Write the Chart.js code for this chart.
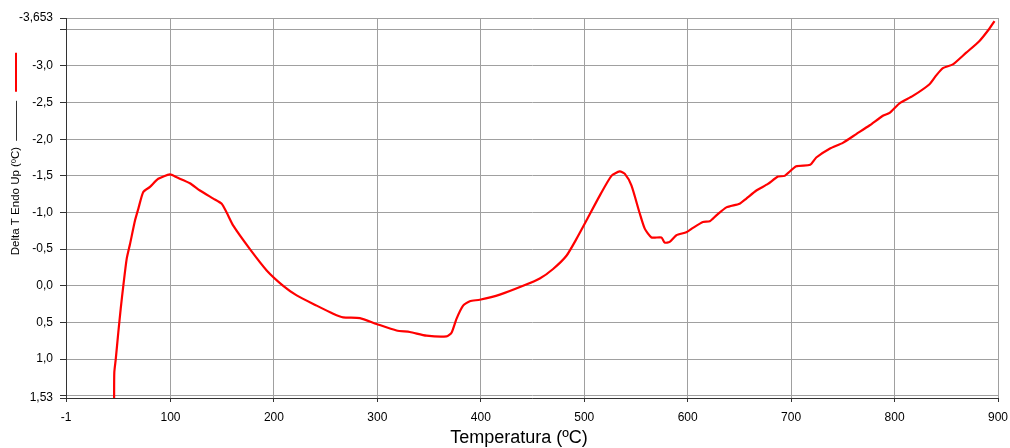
<!DOCTYPE html>
<html>
<head>
<meta charset="utf-8">
<script src="https://cdn.jsdelivr.net/npm/chart.js@4.4.1/dist/chart.umd.min.js"></script>
<style>
html,body{margin:0;padding:0;background:#fff;}
#wrap{width:1010px;height:448px;position:relative;}
</style>
</head>
<body>
<div id="wrap"><canvas id="c"></canvas></div>
<script>
const temperatures = [45.5,45.7,47.1,49.6,51.9,54.4,57.7,60.9,65.7,68.9,73.7,80.2,88.2,99.5,106,118.8,128.5,141.4,149.5,154.3,160.7,176.8,193,209,222,241.3,257.3,266.9,283.1,299.2,318.6,331.4,347.5,366.9,371.7,376.5,382.9,389.4,399.0,418.4,440.9,457,469.9,482.8,492.5,502.1,515,526.3,534.3,539.1,545.6,553.6,558.5,565,574.6,577.8,582.6,589.1,598.7,605.1,614.8,621.3,627.7,637.4,650.2,656.7,666.4,677.6,687.3,693.7,705,718.4,724.3,737.2,750,763,776,788.7,795.2,804.8,817.7,833.8,840.3,846.7,856.4,869.3,882.1,891.8,896.6];
const deltaT = [1.53,1.18,1.00,0.63,0.31,0.00,-0.37,-0.57,-0.89,-1.05,-1.28,-1.35,-1.46,-1.52,-1.48,-1.40,-1.30,-1.19,-1.12,-1.00,-0.82,-0.50,-0.21,0.00,0.13,0.27,0.38,0.43,0.44,0.52,0.61,0.63,0.68,0.69,0.64,0.45,0.27,0.21,0.19,0.12,0.00,-0.10,-0.23,-0.41,-0.64,-0.89,-1.23,-1.50,-1.56,-1.53,-1.37,-0.99,-0.78,-0.66,-0.66,-0.59,-0.60,-0.69,-0.73,-0.79,-0.87,-0.88,-0.96,-1.07,-1.12,-1.19,-1.30,-1.39,-1.49,-1.50,-1.63,-1.65,-1.75,-1.87,-1.95,-2.07,-2.19,-2.32,-2.36,-2.49,-2.59,-2.75,-2.87,-2.97,-3.02,-3.18,-3.34,-3.51,-3.61];
const xTicks = [-1,100,200,300,400,500,600,700,800,900];
const yTicks = [-3.653,-3.5,-3.0,-2.5,-2.0,-1.5,-1.0,-0.5,0.0,0.5,1.0,1.5,1.53];
const yHidden = [-3.5,1.5];
const xTitle = 'Temperatura (ºC)';
const yTitle = 'Delta T Endo Up (ºC)';

const FONT = '"Liberation Sans", Arial, sans-serif';

function fmtY(v){
  if (yHidden.some(h => Math.abs(h - v) < 1e-9)) return '';
  let s;
  if (Math.abs(v + 3.653) < 1e-9) s = '-3.653';
  else if (Math.abs(v - 1.53) < 1e-9) s = '1.53';
  else s = v.toFixed(1);
  return s.replace('.', ',');
}

// Axis titles and the small line-sample marks beside the y title
const axisTitles = {
  id: 'axisTitles',
  afterDraw(chart){
    const ctx = chart.ctx;
    const area = chart.chartArea;
    ctx.save();
    ctx.fillStyle = '#000';
    // x title
    ctx.font = '18px ' + FONT;
    ctx.textAlign = 'center';
    ctx.textBaseline = 'middle';
    ctx.fillText(xTitle, (area.left + area.right) / 2 - 13, chart.height - 10);
    // y title
    ctx.font = '11.5px ' + FONT;
    const w = ctx.measureText(yTitle).width;
    const cx = 16;
    const cy = (area.top + area.bottom) / 2 - 7;
    ctx.save();
    ctx.translate(cx, cy);
    ctx.rotate(-Math.PI / 2);
    ctx.fillText(yTitle, 0, 0);
    ctx.restore();
    const topEnd = cy - w / 2;
    ctx.beginPath();
    ctx.strokeStyle = '#333';
    ctx.lineWidth = 1;
    ctx.moveTo(cx + 0.5, topEnd - 6);
    ctx.lineTo(cx + 0.5, topEnd - 46);
    ctx.stroke();
    ctx.beginPath();
    ctx.strokeStyle = '#ff0000';
    ctx.lineWidth = 2;
    ctx.moveTo(cx, topEnd - 55);
    ctx.lineTo(cx, topEnd - 94);
    ctx.stroke();
    ctx.restore();
  }
};

new Chart(document.getElementById('c'), {
  type: 'line',
  data: {
    datasets: [{
      data: temperatures.map((t, i) => ({x: t, y: deltaT[i]})),
      borderColor: '#ff0000',
      borderWidth: 2.2,
      pointRadius: 0,
      tension: 0.2,
      fill: false
    }]
  },
  options: {
    responsive: true,
    maintainAspectRatio: false,
    animation: false,
    layout: {padding: {top: 18, right: 12, left: 0, bottom: 0}},
    plugins: {legend: {display: false}, tooltip: {enabled: false}},
    scales: {
      x: {
        type: 'linear',
        min: -1, max: 900,
        afterBuildTicks: s => { s.ticks = xTicks.map(v => ({value: v})); },
        afterFit: s => { s.height = 50; s.paddingLeft = 0; s.paddingRight = 0; },
        ticks: {
          color: '#000', font: {family: FONT, size: 12}, padding: 8, maxRotation: 0, autoSkip: false,
          callback: v => String(v)
        },
        grid: {color: '#a0a0a0', lineWidth: 1, tickLength: 4, tickColor: '#333'},
        border: {color: '#333', width: 1}
      },
      y: {
        type: 'linear',
        reverse: true,
        min: -3.653, max: 1.53,
        afterBuildTicks: s => { s.ticks = yTicks.map(v => ({value: v})); },
        afterFit: s => { s.width = 66; s.paddingTop = 0; s.paddingBottom = 0; },
        ticks: {
          color: '#000', font: {family: FONT, size: 12}, padding: 7, autoSkip: false,
          callback: v => fmtY(v)
        },
        grid: {color: '#a0a0a0', lineWidth: 1, tickLength: 6, tickColor: '#333'},
        border: {color: '#333', width: 1}
      }
    }
  },
  plugins: [axisTitles]
});
</script>
</body>
</html>
